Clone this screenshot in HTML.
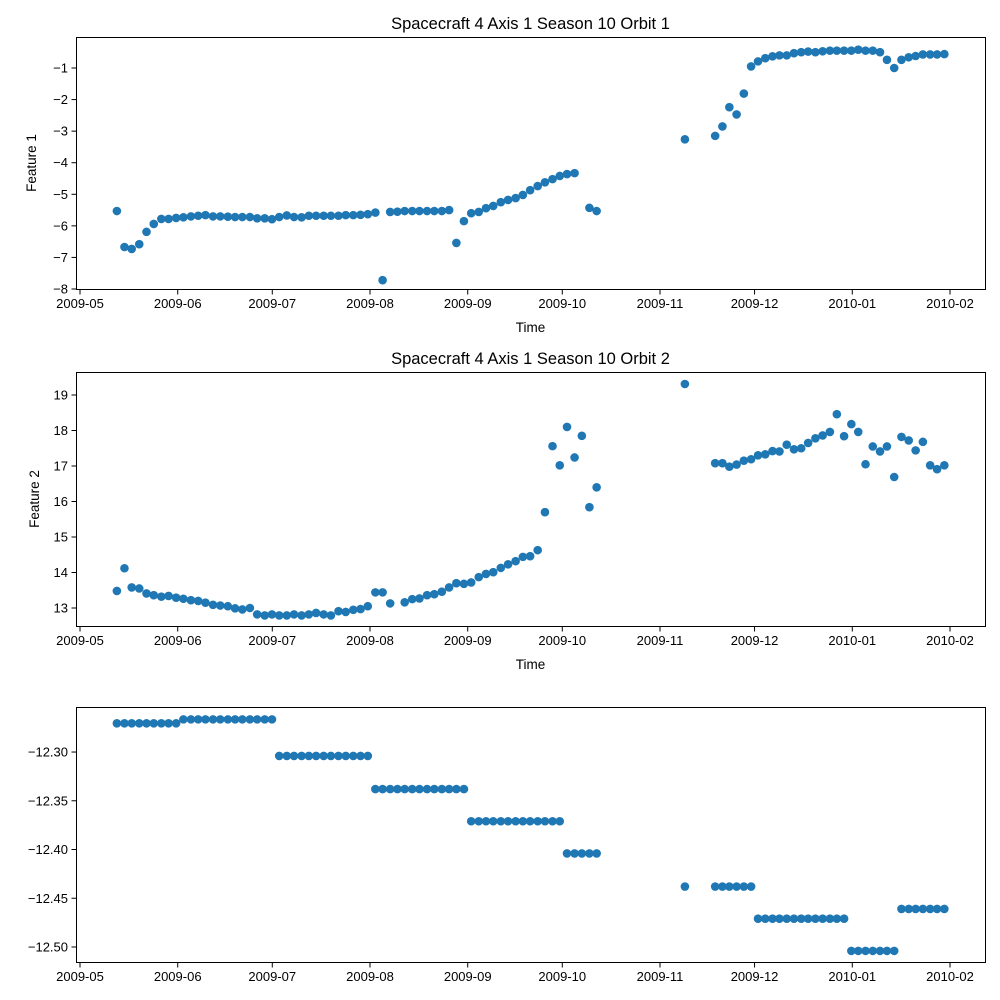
<!DOCTYPE html>
<html>
<head>
<meta charset="utf-8">
<style>
  html,body{margin:0;padding:0;background:#fff;}
  svg{display:block;}
  text{font-family:"Liberation Sans","DejaVu Sans",sans-serif;fill:#000;}
</style>
</head>
<body>
<svg id="fig" width="1000" height="1000" viewBox="0 0 1000 1000" xmlns="http://www.w3.org/2000/svg">
  <rect x="0" y="0" width="1000" height="1000" fill="#fff"/>
</svg>
<script>
// ---- Data ----
// sample times: days since 2009-05-01
const sampleDays = [11.7,14.1,16.4,18.8,21.1,23.4,25.8,28.1,30.5,32.8,35.2,37.5,39.8,42.2,44.5,46.9,49.2,51.5,53.9,56.2,58.6,60.9,63.2,65.6,67.9,70.3,72.6,74.9,77.3,79.6,82.0,84.3,86.7,89.0,91.3,93.7,96.0,98.4,100.7,103.0,105.4,107.7,110.1,112.4,114.8,117.1,119.4,121.8,124.1,126.5,128.8,131.1,133.5,135.8,138.2,140.5,142.8,145.2,147.5,149.9,152.2,154.5,156.9,159.2,161.6,163.9,
191.9,
201.5,203.8,206.0,208.3,210.6,212.9,215.1,217.4,219.7,221.9,224.2,226.5,228.8,231.0,233.3,235.6,237.9,240.1,242.4,244.7,246.9,249.2,251.5,253.8,256.0,258.3,260.6,262.9,265.1,267.4,269.7,271.9,274.2];

// Feature 1 (slot indices + values)
const f1Slots = [0,1,2,3,4,5,6,7,8,9,10,11,12,13,14,15,16,17,18,19,20,21,22,23,24,25,26,27,28,29,30,31,32,33,34,35,36,37,38,39,40,41,42,43,44,45,46,47,48,49,50,51,52,53,54,55,56,57,58,59,60,61,62,64,65,66,67,68,69,70,71,72,73,74,75,76,77,78,79,80,81,82,83,84,85,86,87,88,89,90,91,92,93,94,95,96,97,98,99];
const f1Values = [-5.53,-6.67,-6.73,-6.58,-6.19,-5.94,-5.78,-5.78,-5.75,-5.73,-5.70,-5.68,-5.66,-5.70,-5.70,-5.71,-5.72,-5.72,-5.72,-5.76,-5.76,-5.79,-5.72,-5.67,-5.72,-5.73,-5.68,-5.68,-5.68,-5.68,-5.68,-5.66,-5.66,-5.65,-5.63,-5.58,
-7.72,
-5.56,-5.55,-5.53,-5.53,-5.53,-5.53,-5.53,-5.53,-5.50,
-6.54,-5.85,
-5.60,-5.56,-5.44,-5.37,-5.25,-5.18,-5.12,-5.02,-4.87,-4.74,-4.62,-4.52,-4.42,-4.36,-4.33,
-5.43,-5.53,
-3.26,
-3.15,-2.85,-2.24,-2.47,-1.81,
-0.95,-0.79,-0.69,-0.63,-0.60,-0.60,-0.53,-0.50,-0.48,-0.50,-0.47,-0.45,-0.45,-0.45,-0.45,-0.42,-0.45,-0.45,-0.50,-0.74,-1.00,-0.74,-0.66,-0.62,-0.57,-0.57,-0.57,-0.56];

// Feature 2
const f2Slots = [0,1,2,3,4,5,6,7,8,9,10,11,12,13,14,15,16,17,18,19,20,21,22,23,24,25,26,27,28,29,30,31,32,33,34,35,36,37,39,40,41,42,43,44,45,46,47,48,49,50,51,52,53,54,55,56,57,58,59,60,61,62,63,64,65,66,67,68,69,70,71,72,73,74,75,76,77,78,79,80,81,82,83,84,85,86,87,88,89,90,91,92,93,94,95,96,97,98,99];
const f2Values = [13.48,14.12,13.58,13.55,13.41,13.36,13.32,13.34,13.29,13.26,13.22,13.20,13.15,13.09,13.07,13.05,12.99,12.96,13.00,12.82,12.79,12.82,12.79,12.79,12.82,12.79,12.82,12.86,12.82,12.79,12.91,12.89,12.95,12.97,13.05,13.44,13.44,13.13,
13.16,13.25,13.27,13.36,13.39,13.46,13.58,13.70,13.68,13.72,13.87,13.96,14.01,14.13,14.23,14.32,14.44,14.46,14.63,15.70,17.56,17.02,18.10,17.24,17.85,15.84,16.40,
19.31,
17.08,17.08,16.98,17.04,17.15,17.19,17.30,17.33,17.42,17.41,17.60,17.47,17.50,17.65,17.78,17.86,17.96,18.46,17.84,18.18,17.96,17.05,17.55,17.41,17.55,16.69,17.82,17.72,17.44,17.68,17.02,16.91,17.02];

// Feature 3 (all slots)
const f3Values = [-12.2705,-12.2705,-12.2705,-12.2705,-12.2705,-12.2705,-12.2705,-12.2705,-12.2705,
-12.2665,-12.2665,-12.2665,-12.2665,-12.2665,-12.2665,-12.2665,-12.2665,-12.2665,-12.2665,-12.2665,-12.2665,-12.2665,
-12.304,-12.304,-12.304,-12.304,-12.304,-12.304,-12.304,-12.304,-12.304,-12.304,-12.304,-12.304,-12.304,
-12.338,-12.338,-12.338,-12.338,-12.338,-12.338,-12.338,-12.338,-12.338,-12.338,-12.338,-12.338,-12.338,
-12.371,-12.371,-12.371,-12.371,-12.371,-12.371,-12.371,-12.371,-12.371,-12.371,-12.371,-12.371,-12.371,
-12.404,-12.404,-12.404,-12.404,-12.404,
-12.438,
-12.438,-12.438,-12.438,-12.438,-12.438,-12.438,
-12.471,-12.471,-12.471,-12.471,-12.471,-12.471,-12.471,-12.471,-12.471,-12.471,-12.471,-12.471,-12.471,
-12.504,-12.504,-12.504,-12.504,-12.504,-12.504,-12.504,
-12.461,-12.461,-12.461,-12.461,-12.461,-12.461,-12.461];

// Tick labels
const xTickDays = [0,31,61,92,123,153,184,214,245,276];
const xTickLabels = ["2009-05","2009-06","2009-07","2009-08","2009-09","2009-10","2009-11","2009-12","2010-01","2010-02"];
const y1Ticks = [-1,-2,-3,-4,-5,-6,-7,-8];
const y2Ticks = [13,14,15,16,17,18,19];
const y3Ticks = [-12.30,-12.35,-12.40,-12.45,-12.50];
const y3TickLabels = ["\u221212.30","\u221212.35","\u221212.40","\u221212.45","\u221212.50"];

// ---- Drawing ----
const NS = "http://www.w3.org/2000/svg";
const svg = document.getElementById("fig");
const AX_L = 76, AX_R = 985;
const X0 = 80, PX_PER_DAY = (950 - 80) / 276;
function xScale(d){ return X0 + d * PX_PER_DAY; }
function mk(tag, attrs, parent){
  const el = document.createElementNS(NS, tag);
  for (const k in attrs) el.setAttribute(k, attrs[k]);
  (parent || svg).appendChild(el);
  return el;
}
function yScaleFactory(top, bottom, vTop, vBottom){
  return v => bottom - (v - vBottom) / (vTop - vBottom) * (bottom - top);
}

const panels = [
  {name:"feature-1", top:37, bottom:289, vTop:-0.018, vBottom:-8.0, ticks:y1Ticks, tickLabels:y1Ticks.map(v=>"\u2212"+Math.abs(v)), slots:f1Slots, vals:f1Values, title:"Spacecraft 4 Axis 1 Season 10 Orbit 1", ylabel:"Feature 1", xlabel:"Time", ylabelX:36},
  {name:"feature-2", top:372, bottom:626, vTop:19.648, vBottom:12.493, ticks:y2Ticks, tickLabels:y2Ticks.map(String), slots:f2Slots, vals:f2Values, title:"Spacecraft 4 Axis 1 Season 10 Orbit 2", ylabel:"Feature 2", xlabel:"Time", ylabelX:39},
  {name:"feature-3", top:707, bottom:962, vTop:-12.2538, vBottom:-12.5154, ticks:y3Ticks, tickLabels:y3TickLabels, slots:f3Values.map((_,i)=>i), vals:f3Values, title:null, ylabel:null, xlabel:null}
];

panels.forEach(p => {
  const g = mk("g", {});
  
  
  const ys = yScaleFactory(p.top, p.bottom, p.vTop, p.vBottom);

  // points
  const pts = mk("g", {}, g);
  
  
  p.vals.forEach((v, i) => {
    const c = mk("circle", {cx: xScale(sampleDays[p.slots[i]]).toFixed(2), cy: ys(v).toFixed(2), r: 4.3, fill: "#1f77b4"}, pts);
    
    
  });

  // frame
  const fr = mk("rect", {x: AX_L + 0.5, y: p.top + 0.5, width: AX_R - AX_L, height: p.bottom - p.top, fill: "none", stroke: "#000", "stroke-width": 1}, g);
  
  

  // x ticks
  xTickDays.forEach((d, i) => {
    const x = xScale(d);
    const t = mk("line", {x1: x, x2: x, y1: p.bottom + 0.5, y2: p.bottom + 5.5, stroke: "#000", "stroke-width": 1}, g);
    
    
    const lb = mk("text", {x: x, y: p.bottom + 19, "font-size": "13px", "text-anchor": "middle"}, g);
    lb.textContent = xTickLabels[i];
    
    
  });

  // y ticks
  p.ticks.forEach((v, i) => {
    const y = ys(v);
    const t = mk("line", {x1: AX_L - 4.5, x2: AX_L + 0.5, y1: y, y2: y, stroke: "#000", "stroke-width": 1}, g);
    
    
    const lb = mk("text", {x: AX_L - 8, y: y + 4.5, "font-size": "13px", "text-anchor": "end"}, g);
    lb.textContent = p.tickLabels[i];
    
    
  });

  if (p.title){
    const tt = mk("text", {x: (AX_L + AX_R) / 2, y: p.top - 8, "font-size": "16.5px", "text-anchor": "middle"}, g);
    tt.textContent = p.title;
    
    
  }
  if (p.xlabel){
    const xl = mk("text", {x: (AX_L + AX_R) / 2, y: p.bottom + 43, "font-size": "13.5px", "text-anchor": "middle"}, g);
    xl.textContent = p.xlabel;
    
    
  }
  if (p.ylabel){
    const cy = (p.top + p.bottom) / 2;
    const yl = mk("text", {x: p.ylabelX, y: cy, "font-size": "13.5px", "text-anchor": "middle", transform: "rotate(-90 " + p.ylabelX + " " + cy + ")"}, g);
    yl.textContent = p.ylabel;
    
    
  }
});
</script>
</body>
</html>
